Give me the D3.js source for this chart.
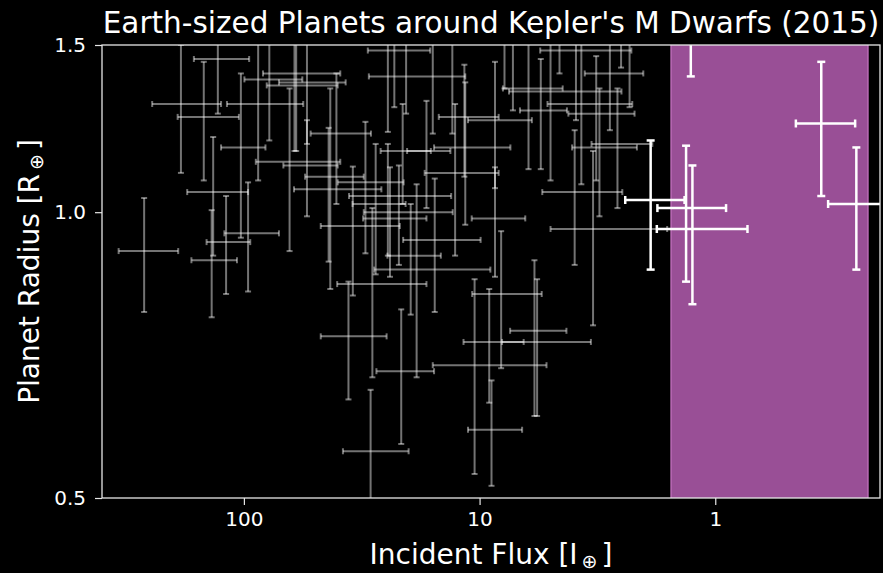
<!DOCTYPE html>
<html>
<head>
<meta charset="utf-8">
<script src="https://cdn.jsdelivr.net/npm/d3@7"></script>
<style>
    body { margin: 0; background: #000; }
    text { font-family: "DejaVu Sans", sans-serif; fill: #fff; }
</style>
</head>
<body>
<svg id="chart" width="883" height="573"></svg>
<script>
// Kepler M dwarf candidates (gray) - incident flux and radius with 1-sigma errors
const grayFlux = [129, 185, 87, 148, 103, 135, 119, 96, 137, 265, 40.5, 64, 61, 78, 54, 60, 43, 23, 3.9, 2.8,
    20.5, 6.2, 5.0, 3.7, 5.5, 3.2, 11.6, 8.6, 2.6, 3.1, 11.5, 21.2, 12.7, 3.95, 24.5, 22, 24, 8.6, 3.3, 15.5,
    19.6, 18.5, 28.5, 36, 21.5, 29, 8.1, 5.85, 9.1, 5.7, 10.5, 8.9, 54, 30.5, 43.7, 27.6, 34.5,
    24.5, 15.8, 13.05, 7.84, 7.22, 4.58, 2.51, 2.31, 16.8];
const grayFluxErr = [34, 60, 31, 43, 22, 39, 25, 25, 30, 75, 11.6, 25, 22, 21.5, 17, 20, 12, 6.8, 1.63, 0.78,
    9, 1.76, 2.5, 1.45, 1.24, 1.0, 3.3, 2.6, 0.75, 0.95, 4.1, 5.1, 4.4, 1.47, 11.3, 9, 7.2, 2.2, 1.7, 5.6,
    5, 9.5, 11.7, 11.2, 5.9, 9, 2.65, 1.57, 2.6, 2.33, 5.3, 2.3, 14, 9.5, 17.6, 7, 12.7,
    5, 4, 3.5, 2, 2, 1.2, 0.7, 0.6, 3.5];
const grayRadius = [1.45, 1.30, 1.30, 1.26, 1.17, 1.05, 0.93, 0.95, 0.89, 0.91, 1.21, 1.13, 1.40, 1.38, 1.37, 1.36, 1.09, 1.48, 1.48, 1.40,
    1.39, 1.35, 1.34, 1.30, 1.28, 1.27, 1.26, 1.25, 1.18, 1.17, 1.17, 1.16, 1.10, 1.05, 1.04, 1.00, 0.985, 0.985, 0.96, 0.935,
    0.90, 0.87, 0.84, 0.74, 0.68, 0.56, 0.82, 0.75, 0.73, 0.73, 0.69, 0.59, 1.12, 1.075, 1.057, 1.02, 0.967,
    1.55, 1.55, 1.55, 1.6, 1.55, 1.6, 1.56, 1.55, 1.16];
const grayRadiusErr = [0.18, 0.20, 0.22, 0.18, 0.23, 0.15, 0.11, 0.125, 0.115, 0.125, 0.19, 0.22, 0.24, 0.19, 0.19, 0.20, 0.26, 0.19, 0.23, 0.18,
    0.12, 0.24, 0.26, 0.23, 0.17, 0.19, 0.17, 0.19, 0.17, 0.18, 0.20, 0.14, 0.20, 0.17, 0.14, 0.12, 0.13, 0.13, 0.20, 0.15,
    0.12, 0.20, 0.17, 0.105, 0.11, 0.09, 0.135, 0.14, 0.10, 0.12, 0.16, 0.075, 0.13, 0.17, 0.17, 0.16, 0.15,
    0.335, 0.34, 0.34, 0.25, 0.27, 0.2, 0.14, 0.26, 0.15];

// Candidates inside the habitable zone (white)
const hzFlux = [1.27, 1.88, 1.33, 1.25, 0.355, 0.252];
const hzFluxErr = [0.3, 0.53, 0.43, 0.52, 0.10, 0.08];
const hzRadius = [1.62, 1.03, 1.01, 0.96, 1.24, 1.02];
const hzRadiusErr = [0.23, 0.16, 0.165, 0.16, 0.20, 0.15];

// Habitable zone flux limits
const hzBand = [1.54, 0.225];

// Axis ticks
const xMajor = [100, 10, 1];
const xMinor = [400, 300, 200, 90, 80, 70, 60, 50, 40, 30, 20, 9, 8, 7, 6, 5, 4, 3, 2,
    0.9, 0.8, 0.7, 0.6, 0.5, 0.4, 0.3, 0.2];
const yMajor = [0.5, 1.0, 1.5];
const yMinor = [0.6, 0.7, 0.8, 0.9];

const plot = { left: 102, right: 880, top: 45, bottom: 498 };
const svg = d3.select('#chart');

const x = d3.scaleLog().domain([400, 0.2]).range([plot.left, plot.right]);
const y = d3.scaleLog().domain([0.5, 1.5]).range([plot.bottom, plot.top]);

svg.append('defs').append('clipPath')
    .attr('id', 'plotClip')
    .append('rect')
    .attr('x', plot.left)
    .attr('y', plot.top)
    .attr('width', plot.right - plot.left)
    .attr('height', plot.bottom - plot.top);

const area = svg.append('g').attr('clip-path', 'url(#plotClip)');

// Habitable zone band
area.append('rect')
    .attr('x', x(hzBand[0]))
    .attr('y', plot.top - 5)
    .attr('width', x(hzBand[1]) - x(hzBand[0]))
    .attr('height', plot.bottom - plot.top + 10)
    .attr('fill', '#994f96')
    .attr('stroke', '#bb6bb7')
    .attr('stroke-width', 1.5);

function drawErrorbars(group, flux, fluxErr, radius, radiusErr, opts) {
    const pts = flux.map((f, i) => ({ f: f, fe: fluxErr[i], r: radius[i], re: radiusErr[i] }));
    const g = group.append('g')
        .attr('stroke', '#fff')
        .attr('stroke-opacity', opts.opacity)
        .attr('stroke-width', opts.width)
        .attr('fill', 'none');

    pts.forEach(d => {
        const xl = x(d.f + d.fe);
        const xr = x(Math.max(d.f - d.fe, 0.01));
        const xc = x(d.f);
        const yc = y(d.r);
        const yt = y(d.r + d.re);
        const yb = y(Math.max(d.r - d.re, 0.01));
        const p = g.append('g');
        p.append('line').attr('x1', xl).attr('x2', xr).attr('y1', yc).attr('y2', yc);
        p.append('line').attr('x1', xc).attr('x2', xc).attr('y1', yt).attr('y2', yb);
        [xl, xr].forEach(cx => {
            p.append('line').attr('x1', cx).attr('x2', cx)
                .attr('y1', yc - opts.cap).attr('y2', yc + opts.cap);
        });
        [yt, yb].forEach(cy => {
            p.append('line').attr('x1', xc - opts.cap).attr('x2', xc + opts.cap)
                .attr('y1', cy).attr('y2', cy);
        });
    });
}

drawErrorbars(area, grayFlux, grayFluxErr, grayRadius, grayRadiusErr, { opacity: 0.45, width: 2, cap: 3 });
drawErrorbars(area, hzFlux, hzFluxErr, hzRadius, hzRadiusErr, { opacity: 1, width: 2.5, cap: 4 });

// Frame
svg.append('rect')
    .attr('x', plot.left)
    .attr('y', plot.top)
    .attr('width', plot.right - plot.left)
    .attr('height', plot.bottom - plot.top)
    .attr('fill', 'none')
    .attr('stroke', '#e6e6e6')
    .attr('stroke-width', 1.3);

// Axes
const tickColor = '#e6e6e6';
const xAxisG = svg.append('g').attr('transform', `translate(0,${plot.bottom})`);
xAxisG.call(d3.axisBottom(x).tickValues(xMinor).tickSize(4).tickFormat(''));
xAxisG.call(d3.axisBottom(x).tickValues(xMajor).tickSize(7).tickPadding(7).tickFormat(d3.format('~g')));

const yAxisG = svg.append('g').attr('transform', `translate(${plot.left},0)`);
yAxisG.call(d3.axisLeft(y).tickValues(yMinor).tickSize(4).tickFormat(''));
yAxisG.call(d3.axisLeft(y).tickValues(yMajor).tickSize(7).tickPadding(9).tickFormat(d3.format('.1f')));

svg.selectAll('.domain').remove();
svg.selectAll('.tick line').attr('stroke', tickColor).attr('stroke-width', 1.2);
svg.selectAll('.tick text')
    .attr('fill', '#fff')
    .style('font-family', '"DejaVu Sans", sans-serif')
    .style('font-size', '20px');

// Title and labels
svg.append('text')
    .attr('x', (plot.left + plot.right) / 2)
    .attr('y', 33)
    .attr('text-anchor', 'middle')
    .style('font-size', '29.5px')
    .text("Earth-sized Planets around Kepler's M Dwarfs (2015)");

const xLabel = svg.append('text')
    .attr('x', (plot.left + plot.right) / 2)
    .attr('y', 564)
    .attr('text-anchor', 'middle')
    .style('font-size', '28px');
xLabel.append('tspan').text('Incident Flux [I');
xLabel.append('tspan').attr('dx', 4).attr('dy', 4).style('font-size', '19px').text('⊕');
xLabel.append('tspan').attr('dx', 4).attr('dy', -4).text(']');

const yLabel = svg.append('text')
    .attr('transform', `translate(39,${(plot.top + plot.bottom) / 2}) rotate(-90)`)
    .attr('text-anchor', 'middle')
    .style('font-size', '28px');
yLabel.append('tspan').text('Planet Radius [R');
yLabel.append('tspan').attr('dx', 4).attr('dy', 4).style('font-size', '19px').text('⊕');
yLabel.append('tspan').attr('dx', 4).attr('dy', -4).text(']');
</script>
</body>
</html>
